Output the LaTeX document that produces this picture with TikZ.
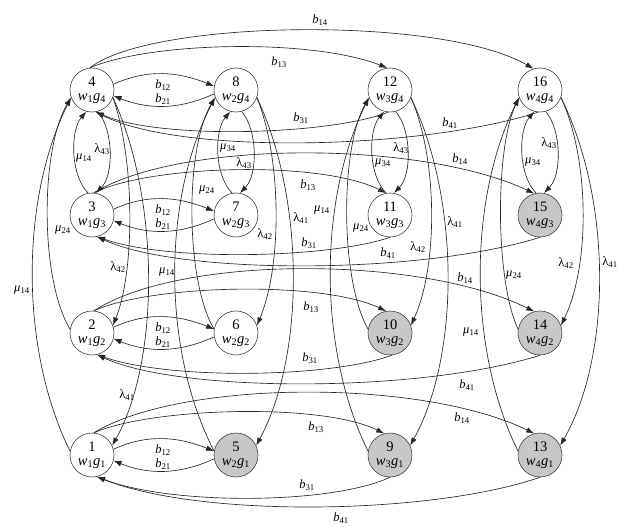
\documentclass[tikz,border=0pt]{standalone}
\usepackage{fontspec}
\setmainfont{Liberation Serif}
\usetikzlibrary{arrows.meta}
\newcommand\lbb[2]{\textit{#1}\textsubscript{#2}}
\newcommand\lml[1]{λ\textsubscript{#1}}
\newcommand\lmu[1]{\textit{μ}\textsubscript{#1}}
\begin{document}
\begin{tikzpicture}[x=1pt,y=-1pt,
  st/.style={circle,draw=black!75,line width=0.6pt,minimum size=44pt,inner sep=0pt,align=center,font=\fontsize{14.5}{14}\selectfont,fill=white},
  sh/.style={st,fill=black!22},
  lab/.style={inner sep=0pt,font=\fontsize{12.5}{12.5}\selectfont},
  ar/.style={draw=black!85,line width=0.65pt,-{Latex[length=8pt,width=5.5pt]}}]
\useasboundingbox (0,0) rectangle (625,527);
% nodes
\node[st] (n4) at (92,90) {4\\\lbb{w}{1}\lbb{g}{4}};
\node[st] (n3) at (92,215) {3\\\lbb{w}{1}\lbb{g}{3}};
\node[st] (n2) at (92,333) {2\\\lbb{w}{1}\lbb{g}{2}};
\node[st] (n1) at (92,455) {1\\\lbb{w}{1}\lbb{g}{1}};
\node[st] (n8) at (236,90) {8\\\lbb{w}{2}\lbb{g}{4}};
\node[st] (n7) at (236,215) {7\\\lbb{w}{2}\lbb{g}{3}};
\node[st] (n6) at (236,333) {6\\\lbb{w}{2}\lbb{g}{2}};
\node[sh] (n5) at (236,455) {5\\\lbb{w}{2}\lbb{g}{1}};
\node[st] (n12) at (390,90) {12\\\lbb{w}{3}\lbb{g}{4}};
\node[st] (n11) at (390,215) {11\\\lbb{w}{3}\lbb{g}{3}};
\node[sh] (n10) at (390,333) {10\\\lbb{w}{3}\lbb{g}{2}};
\node[sh] (n9) at (390,455) {9\\\lbb{w}{3}\lbb{g}{1}};
\node[st] (n16) at (540,90) {16\\\lbb{w}{4}\lbb{g}{4}};
\node[sh] (n15) at (540,215) {15\\\lbb{w}{4}\lbb{g}{3}};
\node[sh] (n14) at (540,333) {14\\\lbb{w}{4}\lbb{g}{2}};
\node[sh] (n13) at (540,455) {13\\\lbb{w}{4}\lbb{g}{1}};

% b12 / b21 in each row
\foreach \a/\b in {n4/n8,n3/n7,n2/n6,n1/n5}{
  \draw[ar] (\a.15) .. controls +(35,-16) and +(-35,-14) .. (\b.170);
  \draw[ar] (\b.190) .. controls +(-35,16) and +(35,14) .. (\a.-15);
}
\foreach \y/\r in {90/4,215/3,333/2,455/1}{
  \node[lab] (Lb12r\r) at (163,\y-5) {\lbb{b}{12}};
  \node[lab] (Lb21r\r) at (163,\y+9) {\lbb{b}{21}};
}

% short arcs between rows 4 and 3
\foreach \a/\b in {n4/n3,n8/n7,n12/n11,n16/n15}{
  \draw[ar] (\b.100) .. controls +(-18,-18) and +(-16,19) .. (\a.255);
  \draw[ar] (\a.285) .. controls +(16,19) and +(18,-18) .. (\b.80);
}
\node[lab] (Ls1) at (84,158) {\lmu{14}};
\node[lab] (Ls2) at (102,149) {\lml{43}};
\node[lab] (Ls3) at (228,148) {\lmu{34}};
\node[lab] (Ls4) at (244,163) {\lml{43}};
\node[lab] (Ls5) at (383,163) {\lmu{34}};
\node[lab] (Ls6) at (401,148) {\lml{43}};
\node[lab] (Ls7) at (533,162) {\lmu{34}};
\node[lab] (Ls8) at (549,143) {\lml{43}};

% long vertical arcs
% column 1
\draw[ar] (n1.170) .. controls (20,350) and (20,200) .. (n4.200);
\draw[ar] (n2.170) .. controls (40,280) and (40,150) .. (n4.200);
\draw[ar] (n4.-20) .. controls (135,160) and (135,271) .. (n2.20);
\draw[ar] (n4.-20) .. controls (160,200) and (160,360) .. (n1.25);
% column 2
\draw[ar] (n5.170) .. controls (162,350) and (162,200) .. (n8.200);
\draw[ar] (n6.170) .. controls (185,280) and (185,148) .. (n8.200);
\draw[ar] (n8.-20) .. controls (282,160) and (282,266) .. (n6.20);
\draw[ar] (n8.-20) .. controls (305,200) and (305,355) .. (n5.25);
% column 3
\draw[ar] (n9.170) .. controls (318,350) and (318,200) .. (n12.200);
\draw[ar] (n10.170) .. controls (340,280) and (340,148) .. (n12.200);
\draw[ar] (n12.-20) .. controls (438,160) and (438,266) .. (n10.20);
\draw[ar] (n12.-20) .. controls (460,200) and (460,355) .. (n9.25);
% column 4
\draw[ar] (n13.170) .. controls (468,350) and (468,200) .. (n16.200);
\draw[ar] (n14.170) .. controls (495,280) and (495,148) .. (n16.200);
\draw[ar] (n16.-20) .. controls (590,160) and (590,266) .. (n14.20);
\draw[ar] (n16.-20) .. controls (612,200) and (612,355) .. (n13.25);

\node[lab] (Lv1) at (63,230) {\lmu{24}};
\node[lab] (Lv2) at (22,290) {\lmu{14}};
\node[lab] (Lv3) at (118,267) {\lml{42}};
\node[lab] (Lv4) at (127,395) {\lml{41}};
\node[lab] (Lv5) at (207,190) {\lmu{24}};
\node[lab] (Lv6) at (167,272) {\lmu{14}};
\node[lab] (Lv7) at (265,234) {\lml{42}};
\node[lab] (Lv8) at (301,218) {\lml{41}};
\node[lab] (Lv9) at (322,210) {\lmu{14}};
\node[lab] (Lv10) at (361,228) {\lmu{24}};
\node[lab] (Lv11) at (418,247) {\lml{42}};
\node[lab] (Lv12) at (455,222) {\lml{41}};
\node[lab] (Lv13) at (514,275) {\lmu{24}};
\node[lab] (Lv14) at (471,332) {\lmu{14}};
\node[lab] (Lv15) at (566,263) {\lml{42}};
\node[lab] (Lv16) at (610,262) {\lml{41}};

% long horizontal arcs, row 4
\draw[ar] (n4.95) .. controls (150,20) and (440,15) .. (n16.107);
\draw[ar] (n4.95) .. controls (150,42) and (310,38) .. (n12.97);
\draw[ar] (n12.265) .. controls (330,135) and (160,140) .. (n4.280);
\draw[ar] (n16.265) .. controls (420,150) and (180,155) .. (n4.280);
\node[lab] (Lh1) at (320,20) {\lbb{b}{14}};
\node[lab] (Lh2) at (279,62) {\lbb{b}{13}};
\node[lab] (Lh3) at (301,118) {\lbb{b}{31}};
\node[lab] (Lh4) at (450,123) {\lbb{b}{41}};
% row 3
\draw[ar] (n3.85) .. controls (150,165) and (320,160) .. (n11.100);
\draw[ar] (n3.85) .. controls (180,140) and (420,140) .. (n15.105);
\draw[ar] (n11.270) .. controls (330,258) and (170,262) .. (n3.283);
\draw[ar] (n15.270) .. controls (420,275) and (180,275) .. (n3.283);
\node[lab] (Lh5) at (308,185) {\lbb{b}{13}};
\node[lab] (Lh6) at (460,159) {\lbb{b}{14}};
\node[lab] (Lh7) at (309,243) {\lbb{b}{31}};
\node[lab] (Lh8) at (388,253) {\lbb{b}{41}};
% row 2
\draw[ar] (n2.85) .. controls (150,285) and (320,280) .. (n10.100);
\draw[ar] (n2.85) .. controls (180,255) and (420,255) .. (n14.105);
\draw[ar] (n10.275) .. controls (330,378) and (170,380) .. (n2.283);
\draw[ar] (n14.270) .. controls (420,393) and (180,393) .. (n2.283);
\node[lab] (Lh9) at (311,307) {\lbb{b}{13}};
\node[lab] (Lh10) at (465,278) {\lbb{b}{14}};
\node[lab] (Lh11) at (310,358) {\lbb{b}{31}};
\node[lab] (Lh12) at (467,385) {\lbb{b}{41}};
% row 1
\draw[ar] (n1.85) .. controls (150,408) and (320,402) .. (n9.105);
\draw[ar] (n1.85) .. controls (180,380) and (420,378) .. (n13.105);
\draw[ar] (n9.270) .. controls (330,505) and (170,505) .. (n1.283);
\draw[ar] (n13.270) .. controls (430,515) and (200,518) .. (n1.283);
\node[lab] (Lh13) at (316,427) {\lbb{b}{13}};
\node[lab] (Lh14) at (462,418) {\lbb{b}{14}};
\node[lab] (Lh15) at (307,485) {\lbb{b}{31}};
\node[lab] (Lh16) at (341,518) {\lbb{b}{41}};
\end{tikzpicture}
\end{document}
